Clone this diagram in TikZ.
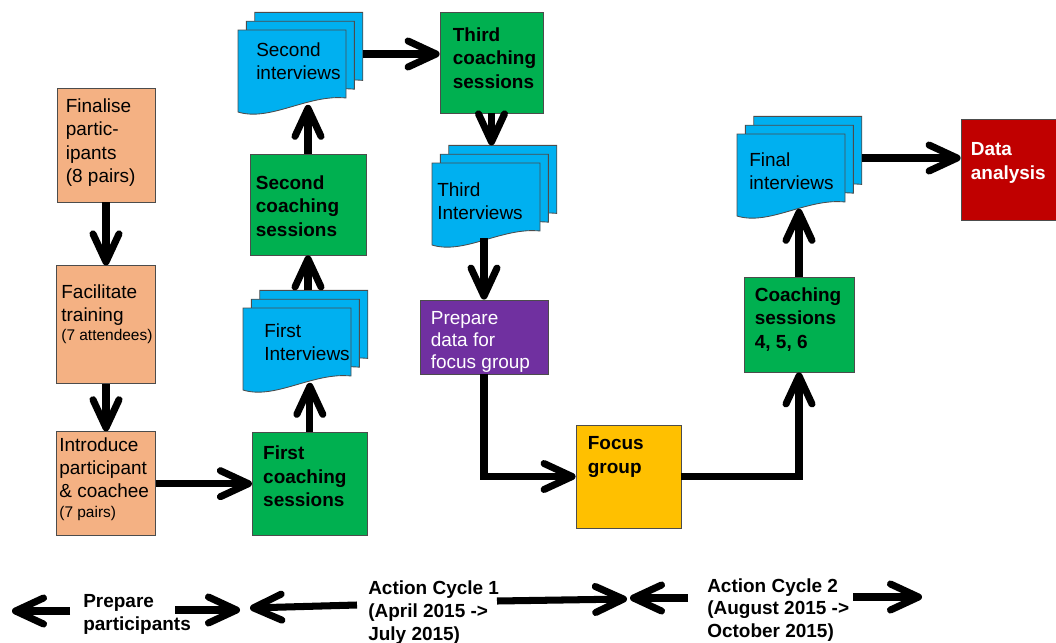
\documentclass[tikz,border=0pt]{standalone}
\usepackage{fontspec}
\setmainfont{Liberation Sans}
\usetikzlibrary{positioning,arrows.meta}

\definecolor{salmon}{HTML}{F4B183}
\definecolor{stagegreen}{HTML}{00B050}
\definecolor{docblue}{HTML}{00B0F0}
\definecolor{prepviolet}{HTML}{7030A0}
\definecolor{focusyellow}{HTML}{FFC000}
\definecolor{datared}{HTML}{C00000}

\newcommand{\boxfont}{\fontsize{13.5}{16.5}\selectfont}
\newcommand{\notefont}{\fontsize{11}{13}\selectfont}

% stack of three interview sheets: name, corner of front sheet, text offset, text
\newcommand{\interv}[4]{%
  \begin{scope}[shift={#2}]
    \foreach \k in {2,1,0}
      \draw[sheet] (0.21*\k,0.22*\k) -- ++(2.7,0) -- ++(0,-1.7)
        .. controls +(-0.95,0.1) and +(0.8,-0.25) .. ++(-2.7,-0.35) -- cycle;
    \node (#1) [boxtxt] at #3 {#4};
    \coordinate (#1-s) at (1.5,-1.87);
    \coordinate (#1-n) at (1.5,0.44);
    \coordinate (#1-e) at (3.12,-0.6);
  \end{scope}}

\begin{document}
\begin{tikzpicture}[
    stagebox/.style={draw=black!70, line width=0.6pt, rectangle, inner sep=0pt},
    boxtxt/.style={anchor=north west, align=left, inner sep=0pt, font=\boxfont},
    boldtxt/.style={boxtxt, font=\boxfont\bfseries},
    cycletxt/.style={anchor=north west, align=left, inner sep=0pt,
        font=\fontsize{13.5}{16.3}\selectfont\bfseries},
    sheet/.style={draw=black!70, line width=0.6pt, fill=docblue},
    flow/.style={line width=5pt,
        -{Straight Barb[length=7mm, width=6.5mm, line cap=round, line join=round]}}
  ]
  \useasboundingbox (0,0) rectangle (26.4,-16.075);

  % preparation column
  \node (fin) [stagebox, fill=salmon, minimum width=2.45cm, minimum height=2.85cm] at (2.65,-3.625) {};
  \node (fac) [stagebox, fill=salmon, minimum width=2.475cm, minimum height=2.95cm, below=1.575cm of fin] {};
  \node (intro) [stagebox, fill=salmon, minimum width=2.475cm, minimum height=2.6cm, below=1.175cm of fac] {};
  \node (fin-t) [boxtxt] at ([shift={(0.225,-0.275)}]fin.north west) {Finalise\\partic-\\ipants\\(8 pairs)};
  \node (fac-t) [boxtxt] at ([shift={(0.125,-0.475)}]fac.north west) {Facilitate\\training\\[-3pt]{\notefont (7 attendees)}};
  \node (intro-t) [boxtxt] at ([shift={(0.075,-0.15)}]intro.north west) {Introduce\\participant\\\& coachee\\[-2.5pt]{\notefont (7 pairs)}};

  % action cycle 1
  \node (fc1) [stagebox, fill=stagegreen, minimum width=2.875cm, minimum height=2.575cm, right=2.4cm of intro] {};
  \node (fc2) [stagebox, fill=stagegreen, minimum width=2.9cm, minimum height=2.525cm] at (7.7,-5.1125) {};
  \node (fc3) [stagebox, fill=stagegreen, minimum width=2.575cm, minimum height=2.525cm] at (12.2875,-1.5625) {};
  \node (prep) [stagebox, fill=prepviolet, minimum width=3.2cm, minimum height=1.85cm] at (12.1,-8.425) {};
  \node (fc1-t) [boldtxt] at ([shift={(0.275,-0.35)}]fc1.north west) {First\\coaching\\sessions};
  \node (fc2-t) [boldtxt] at ([shift={(0.15,-0.55)}]fc2.north west) {Second\\coaching\\sessions};
  \node (fc3-t) [boldtxt] at ([shift={(0.325,-0.4)}]fc3.north west) {Third\\coaching\\sessions};
  \node (prep-t) [boxtxt, text=white, font=\fontsize{13.5}{15.5}\selectfont] at ([shift={(0.275,-0.3)}]prep.north west) {Prepare\\data for\\focus group};

  \interv{int1}{(6.075,-7.7)}{(0.525,-0.375)}{First\\Interviews}
  \interv{int2}{(5.95,-0.75)}{(0.45,-0.3)}{Second\\interviews}
  \interv{int3}{(10.8,-4.075)}{(0.125,-0.475)}{Third\\Interviews}

  % action cycle 2
  \node (focus) [stagebox, fill=focusyellow, minimum width=2.625cm, minimum height=2.575cm] at (15.7125,-11.9125) {};
  \node (fc4) [stagebox, fill=stagegreen, minimum width=2.75cm, minimum height=2.375cm] at (19.975,-8.1125) {};
  \node (data) [stagebox, fill=datared, minimum width=2.6cm, minimum height=2.525cm] at (25.325,-4.2375) {};
  \node (focus-t) [boldtxt] at ([shift={(0.3,-0.3)}]focus.north west) {Focus\\group};
  \node (fc4-t) [boldtxt] at ([shift={(0.275,-0.275)}]fc4.north west) {Coaching\\sessions\\4, 5, 6};
  \node (data-t) [boldtxt, text=white] at ([shift={(0.25,-0.6)}]data.north west) {Data\\analysis};

  \interv{intF}{(18.425,-3.35)}{(0.3,-0.45)}{Final\\interviews}

  \draw[flow] (fin) -- (fac);
  \draw[flow] (fac) -- (intro);
  \draw[flow] (intro) -- (fc1);
  \draw[flow] (fc1) -- (fc1 |- int1-s);
  \draw[flow] (fc2 |- int1-n) -- (fc2);
  \draw[flow] (fc2) -- (fc2 |- int2-s);
  \draw[flow] (int2-e) -- (int2-e -| fc3.west);
  \draw[flow] (fc3) -- (fc3 |- int3-n);
  \draw[flow] (prep |- int3-s) -- (prep);
  \draw[flow] (prep) |- (focus);
  \draw[flow] (focus) -| (fc4);
  \draw[flow] (fc4) -- (fc4 |- intF-s);
  \draw[flow] (intF-e) -- (intF-e -| data.west);

  % time line
  \node (pp) [cycletxt] at (2.075,-14.85) {Prepare\\participants};
  \node (ac1) [cycletxt] at (9.2,-14.52) {Action Cycle 1\\(April 2015 ->\\July 2015)};
  \node (ac2) [cycletxt] at (17.675,-14.45) {Action Cycle 2\\(August 2015 ->\\October 2015)};
  \coordinate (pp-a) at (1.75,-15.275);
  \coordinate (pp-b) at (0.3,-15.275);
  \coordinate (pp-c) at (4.375,-15.25);
  \coordinate (pp-d) at (6.0,-15.25);
  \coordinate (ac1-a) at (8.925,-15.125);
  \coordinate (ac1-b) at (6.25,-15.2);
  \coordinate (ac1-c) at (12.425,-15.025);
  \coordinate (ac1-d) at (15.675,-14.975);
  \coordinate (ac2-a) at (17.2,-14.95);
  \coordinate (ac2-b) at (15.75,-14.95);
  \coordinate (ac2-c) at (21.325,-14.925);
  \coordinate (ac2-d) at (23.05,-14.925);
  \draw[flow] (pp-a) -- (pp-b);
  \draw[flow] (pp-c) -- (pp-d);
  \draw[flow] (ac1-a) -- (ac1-b);
  \draw[flow] (ac1-c) -- (ac1-d);
  \draw[flow] (ac2-a) -- (ac2-b);
  \draw[flow] (ac2-c) -- (ac2-d);
\end{tikzpicture}
\end{document}
